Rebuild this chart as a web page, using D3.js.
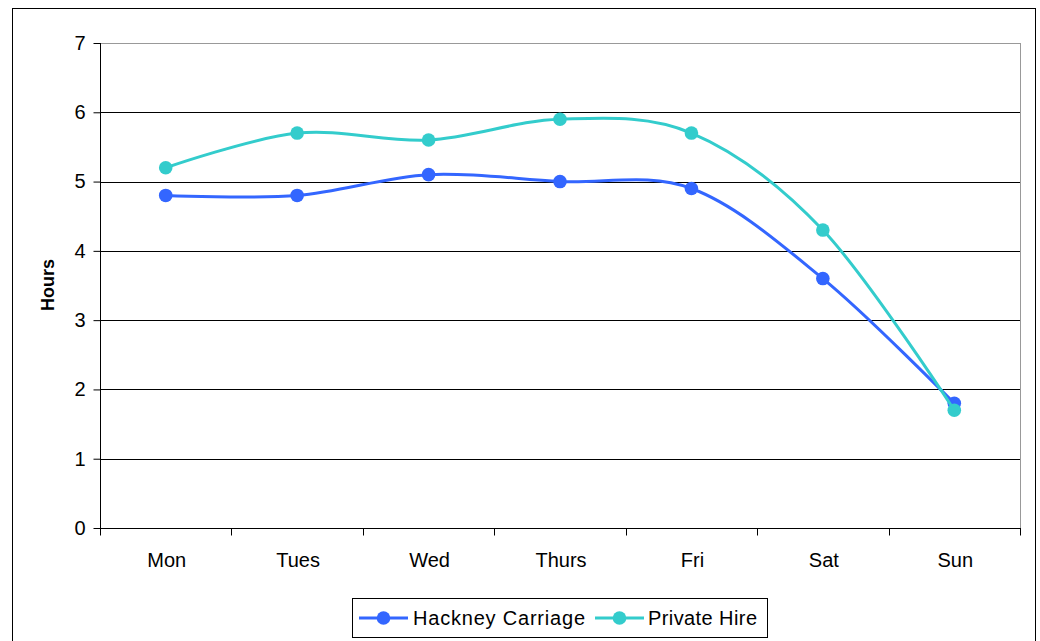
<!DOCTYPE html>
<html><head><meta charset="utf-8">
<script src="https://cdn.jsdelivr.net/npm/d3@7"></script>
<style>body{margin:0;background:#fff}svg{display:block}text{font-family:"Liberation Sans",Arial,sans-serif}</style>
</head><body>
<svg id="c" width="1040" height="641"></svg>
<script>
const days = ["Mon","Tues","Wed","Thurs","Fri","Sat","Sun"];
const hackney = [4.8,4.8,5.1,5.0,4.9,3.6,1.8];
const privateHire = [5.2,5.7,5.6,5.9,5.7,4.3,1.7];
const yTicks = [0,1,2,3,4,5,6,7];
const seriesNames = ["Hackney Carriage","Private Hire"];
const colors = ["#3366FF","#33CCCC"];

const svg = d3.select("#c");
svg.append("rect").attr("x",12.5).attr("y",8.5).attr("width",1023).attr("height",700)
  .attr("fill","#fff").attr("stroke","#000").attr("stroke-width",1);

const L=100,T=43,R=1020,B=528;
const x = d3.scaleBand().domain(days).range([L,R]);
const y = d3.scaleLinear().domain([0,7]).range([B,T]);

svg.append("g").selectAll("line").data(yTicks.filter(d=>d>0)).join("line")
  .attr("x1",L).attr("x2",R).attr("y1",d=>Math.round(y(d))+0.5).attr("y2",d=>Math.round(y(d))+0.5)
  .attr("stroke",d=>d===7?"#999":"#000").attr("stroke-width",1);
svg.append("line").attr("x1",R+0.5).attr("x2",R+0.5).attr("y1",T).attr("y2",B).attr("stroke","#999");

const yAxis = d3.axisLeft(y).tickValues(yTicks).tickSize(7).tickPadding(8).tickFormat(d3.format("d"));
const gy = svg.append("g").attr("transform",`translate(${L+0.5},0)`).call(yAxis);
gy.select(".domain").attr("stroke","#000").attr("d",`M0,${T}V${B}`);
gy.selectAll(".tick line").attr("stroke","#000");
gy.selectAll(".tick text").attr("font-size",20).attr("fill","#000").style("font-family","Liberation Sans, Arial, sans-serif");

const gx = svg.append("g").attr("transform",`translate(0,${B+0.5})`);
gx.append("line").attr("x1",L).attr("x2",R+1).attr("stroke","#000");
const bounds = days.map(d=>x(d)).concat([R]);
gx.selectAll(".tk").data(bounds).join("line").attr("class","tk")
  .attr("x1",d=>Math.round(d)+0.5).attr("x2",d=>Math.round(d)+0.5).attr("y1",0).attr("y2",7).attr("stroke","#000");
gx.selectAll("text").data(days).join("text")
  .attr("x",d=>x(d)+x.bandwidth()/2+1).attr("y",38).attr("text-anchor","middle")
  .attr("font-size",20).attr("fill","#000").text(d=>d);

svg.append("text").attr("transform","translate(54,285) rotate(-90)").attr("text-anchor","middle")
  .attr("font-size",18).attr("font-weight","bold").text("Hours");

const cx = d=>x(d)+x.bandwidth()/2;
const line = d3.line().x((v,i)=>cx(days[i])).y(v=>y(v)).curve(d3.curveCardinal.tension(0));
[hackney,privateHire].forEach((data,k)=>{
  const g = svg.append("g");
  g.append("path").attr("d",line(data)).attr("fill","none").attr("stroke",colors[k]).attr("stroke-width",3);
  g.selectAll("circle").data(data).join("circle")
    .attr("cx",(v,i)=>cx(days[i])).attr("cy",v=>y(v)).attr("r",6.8).attr("fill",colors[k]);
});

const lg = svg.append("g");
lg.append("rect").attr("x",352.5).attr("y",598.5).attr("width",415).attr("height",39)
  .attr("fill","#fff").attr("stroke","#000");
const items = [{x:359,tx:413,w:172},{x:595,tx:648,w:109}];
seriesNames.forEach((n,k)=>{
  const it = items[k];
  lg.append("line").attr("x1",it.x).attr("x2",it.x+49).attr("y1",618).attr("y2",618)
    .attr("stroke",colors[k]).attr("stroke-width",3);
  lg.append("circle").attr("cx",it.x+24.5).attr("cy",618).attr("r",6.8).attr("fill",colors[k]);
  lg.append("text").attr("x",it.tx).attr("y",625).attr("font-size",20).attr("fill","#000")
    .attr("textLength",it.w).attr("lengthAdjust","spacing").text(n);
});
</script>
</body></html>
